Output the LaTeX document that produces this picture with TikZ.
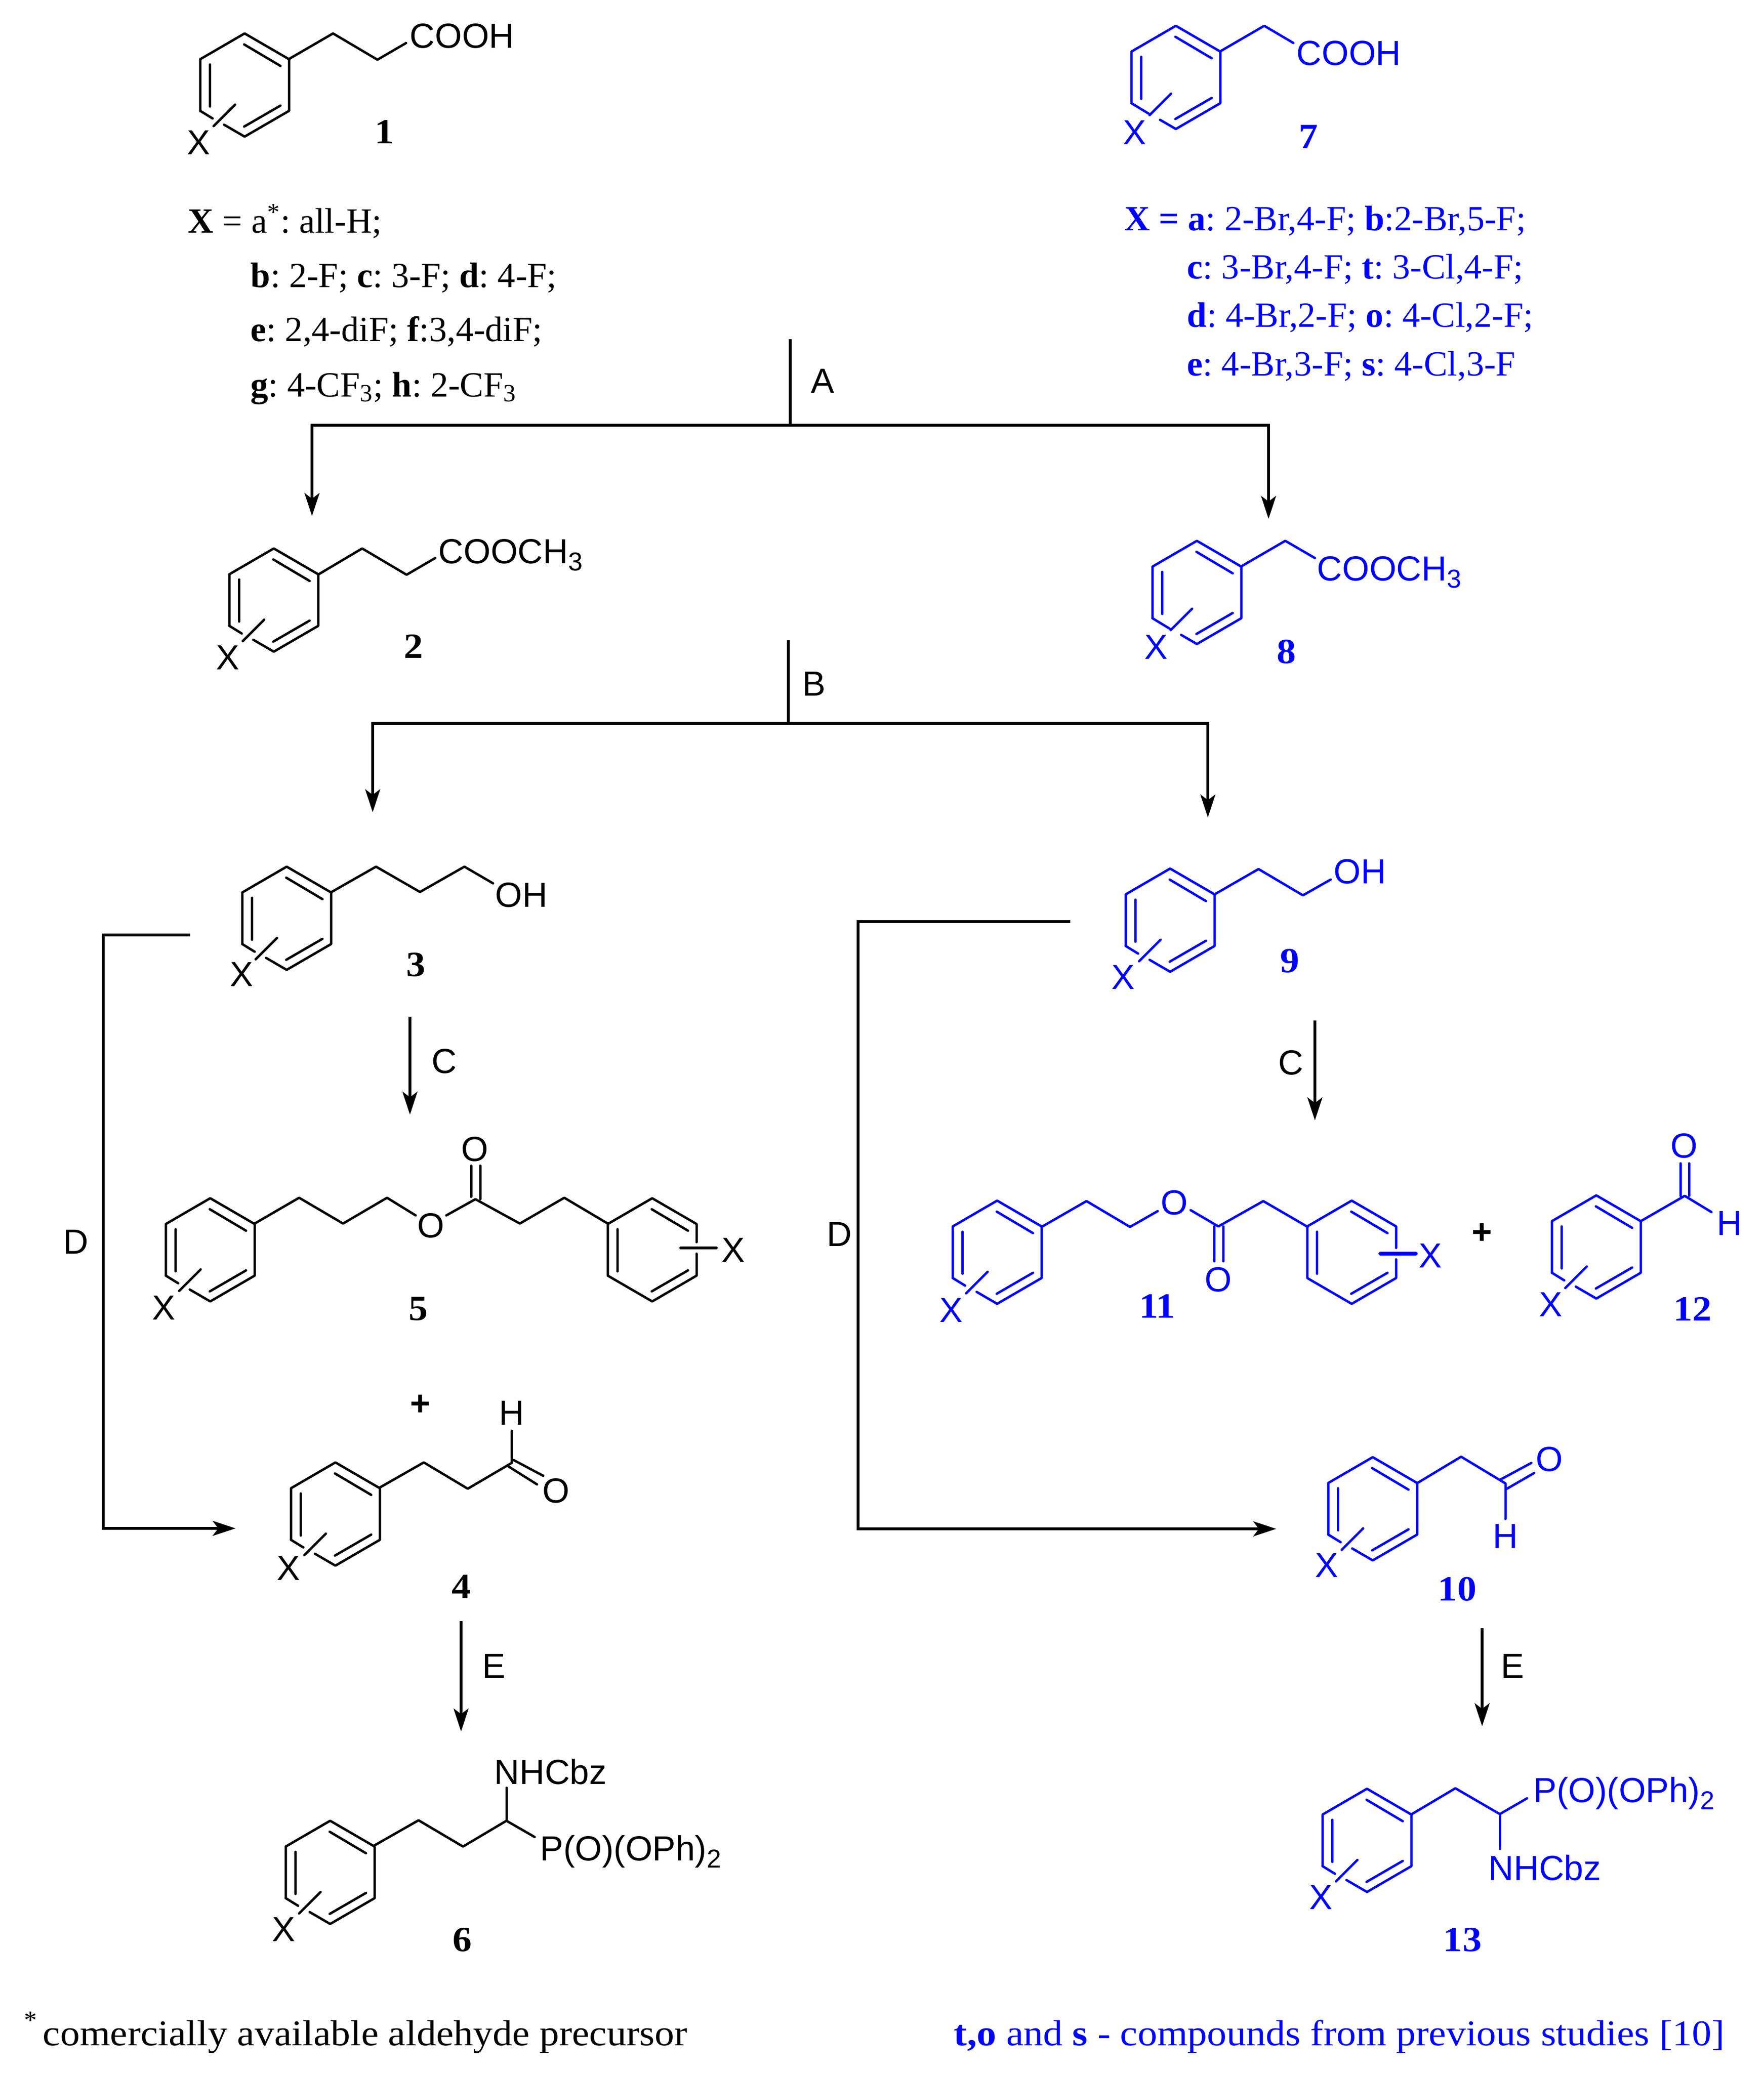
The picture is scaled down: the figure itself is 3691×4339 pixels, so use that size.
\documentclass[tikz,border=0pt]{standalone}
\usepackage{fontspec}
\usetikzlibrary{arrows.meta}
\setmainfont{Liberation Serif}
\newfontfamily\widerm{Liberation Serif}[FakeStretch=1.08]
\newfontfamily\chemsans{Liberation Sans}
\definecolor{chemblue}{RGB}{0,0,255}
\frenchspacing
\newcommand{\subthree}[1]{\raisebox{-3.8pt}{\fontsize{13}{14}\selectfont #1}}
\tikzset{
  bond/.style={line width=1.2pt,line join=round,line cap=round},
  flow/.style={line width=1.35pt,line join=miter,black},
  flowtip/.style={flow,-{Stealth[length=11.5pt,width=7.5pt,inset=2.8pt]}},
  atom/.style={inner sep=0pt,font=\chemsans\fontsize{17.5}{20}\selectfont},
  atomb/.style={atom,anchor=base west},
  cmpd/.style={inner sep=0pt,font=\widerm\fontsize{17.8}{20}\selectfont\bfseries},
  note/.style={inner sep=0pt,anchor=base west,font=\fontsize{17.8}{20}\selectfont\frenchspacing},
  foot/.style={inner sep=0pt,anchor=base west,font=\widerm\fontsize{18.2}{20}\selectfont\frenchspacing},
  stage/.style={atom,black},
  plus/.style={atom,font=\chemsans\bfseries\fontsize{17.5}{20}\selectfont}
}
% ring: #1 id, #2 cx, #3 cy, #4 X dx, #5 X dy, #6 X-bond shift x, #7 shift y
\newcommand{\benz}[7]{%
  \begin{scope}[shift={(#2,#3)},bond]
    \draw (-93,54) -- (-93,-54) -- (0,-108) -- (93,-54) -- (93,54) -- (0,108) -- ({-43+#6},{83+0.58*#6});
    \draw (-93,54) -- ({-67+#6},{70+0.58*#6});
    \draw (-1,-85) -- (75,-40);
    \draw (-1,87) -- (75,43);
    \draw (-72.5,-43) -- (-72.5,45);
    \draw ({-20+#6},{41+#7}) -- ({-65+#6},{86+#7});
    \node[atom] (x#1) at (#4,#5) {X};
  \end{scope}}
% ring with X on the right edge: #1 id, #2 cx, #3 cy, #4 bond y, #5 bond width, #6 X dx
\newcommand{\benzR}[6]{%
  \begin{scope}[shift={(#2,#3)},bond]
    \draw (93,{#4-12}) -- (93,-54) -- (0,-108) -- (-93,-54) -- (-93,54) -- (0,108) -- (93,54) -- (93,{#4+12});
    \draw (-1,-85) -- (75,-40);
    \draw (-1,87) -- (75,43);
    \draw (-72.5,-43) -- (-72.5,45);
    \draw[line width=#5] (60,#4) -- (134,#4);
    \node[atom] (x#1) at (#6,{#4+4}) {X};
  \end{scope}}
\begin{document}
\begin{tikzpicture}[x=0.24pt,y=-0.24pt]
\useasboundingbox[fill=white] (0,0) rectangle (3691,4339);

% ---------- black column ----------
\benz{a}{512}{178}{-96}{120}{0}{0}
\draw[bond] (604,124) -- (697,70) -- (790,125) -- (850,90);
\node[atomb] (cooh1) at (857,101) {COOH};
\node[cmpd] (n1) at (805,276) {1};
\node[note] (t1a) at (393,488) {\textbf{X} = a\textsuperscript{*}: all-H;};
\node[note] (t1b) at (524,602) {\textbf{b}: 2-F; \textbf{c}: 3-F; \textbf{d}: 4-F;};
\node[note] (t1c) at (524,715) {\textbf{e}: 2,4-diF; \textbf{f}:3,4-diF;};
\node[note] (t1d) at (524,830) {\textbf{g}: 4-CF\textsubscript{3}; \textbf{h}: 2-CF\textsubscript{3}};

\benz{b}{573}{1256}{-96}{120}{0}{0}
\draw[bond] (667,1202) -- (758,1148) -- (851,1203) -- (911,1168);
\node[atomb] (e2) at (917,1179) {COOCH\subthree{3}};
\node[cmpd] (n2) at (866,1353) {2};

\benz{c}{600}{1922}{-94}{117}{0}{0}
\draw[bond] (694,1867) -- (787,1814) -- (879,1867) -- (972,1814) -- (1032,1849);
\node[atomb] (oh3) at (1036,1898) {OH};
\node[cmpd] (n3) at (871,2019) {3};

\benz{e}{440}{2616}{-97}{121}{0}{0}
\draw[bond] (533,2561) -- (626,2507) -- (718,2561) -- (810,2507) -- (870,2544);
\draw[bond] (934,2544) -- (995,2510) -- (1088,2561) -- (1181,2507) -- (1272,2561);
\draw[bond] (986,2505) -- (986,2440) (1005,2510) -- (1005,2440);
\node[atom] (o5a) at (902,2565) {O};
\node[atom] (o5b) at (994,2405) {O};
\benzR{f}{1365}{2616}{-4}{1.5pt}{170}
\node[cmpd] (n5) at (876,2740) {5};
\node[plus] (p5) at (880,2941) {+};

\benz{d}{702}{3169}{-98}{113}{0}{0}
\draw[bond] (794,3114) -- (887,3061) -- (979,3116) -- (1071,3062) -- (1071,2995);
\draw[bond] (1075,3056) -- (1137,3089) (1062,3068) -- (1124,3107);
\node[atom] (h4) at (1071,2957) {H};
\node[atom] (o4) at (1164,3120) {O};
\node[cmpd] (n4) at (966,3321) {4};

\benz{g}{691}{3919}{-97}{119}{0}{0}
\draw[bond] (783,3863) -- (876,3810) -- (969,3865) -- (1060,3811) -- (1119,3845);
\draw[bond] (1060,3811) -- (1060,3742);
\node[atomb] (nh6) at (1034,3734) {NHCbz};
\node[atomb] (p6) at (1130,3894) {P(O)(OPh)\subthree{2}};
\node[cmpd] (n6) at (968,4060) {6};

% ---------- blue column ----------
\begin{scope}[color=chemblue]
\benz{h}{2461}{162}{-86}{115}{10}{-7}
\draw[bond] (2553,108) -- (2646,54) -- (2707,90);
\node[atomb] (cooh7) at (2713,137) {COOH};
\node[cmpd] (n7) at (2738,286) {7};
\node[note] (t7a) at (2353,483) {\textbf{X = a}: 2-Br,4-F; \textbf{b}:2-Br,5-F;};
\node[note] (t7b) at (2484,584) {\textbf{c}: 3-Br,4-F; \textbf{t}: 3-Cl,4-F;};
\node[note] (t7c) at (2484,684) {\textbf{d}: 4-Br,2-F; \textbf{o}: 4-Cl,2-F;};
\node[note] (t7d) at (2484,786) {\textbf{e}: 4-Br,3-F; \textbf{s}: 4-Cl,3-F};

\benz{i}{2505}{1240}{-85}{114}{10}{-7}
\draw[bond] (2597,1186) -- (2690,1132) -- (2752,1168);
\node[atomb] (e8) at (2756,1215) {COOCH\subthree{3}};
\node[cmpd] (n8) at (2692,1364) {8};

\benz{j}{2449}{1926}{-98}{119}{0}{0}
\draw[bond] (2542,1872) -- (2634,1819) -- (2727,1874) -- (2785,1841);
\node[atomb] (oh9) at (2791,1849) {OH};
\node[cmpd] (n9) at (2699,2011) {9};

\benz{k}{2087}{2621}{-96}{121}{0}{0}
\draw[bond] (2180,2568) -- (2274,2514) -- (2365,2568) -- (2423,2535);
\draw[bond] (2492,2533) -- (2550,2567) -- (2644,2514) -- (2737,2568);
\draw[bond] (2541,2567) -- (2541,2640) (2560,2567) -- (2560,2640);
\node[atom] (o11a) at (2458,2517) {O};
\node[atom] (o11b) at (2550,2678) {O};
\benzR{l}{2829}{2621}{3}{2pt}{165}
\node[cmpd] (n11) at (2422,2734) {11};

\benz{m}{3341}{2610}{-95}{120}{0}{0}
\draw[bond] (3434,2556) -- (3526,2503) -- (3582,2537);
\draw[bond] (3517,2503) -- (3517,2435) (3535,2503) -- (3535,2435);
\node[atom] (o12) at (3525,2398) {O};
\node[atom] (h12) at (3620,2560) {H};
\node[cmpd] (n12) at (3542,2740) {12};

\benz{n}{2873}{3158}{-96}{118}{0}{0}
\draw[bond] (2965,3105) -- (3058,3049) -- (3151,3105) -- (3151,3179);
\draw[bond] (3140,3097) -- (3205,3062) (3154,3116) -- (3211,3083);
\node[atom] (o10) at (3243,3054) {O};
\node[atom] (h10) at (3151,3215) {H};
\node[cmpd] (n10) at (3050,3326) {10};

\benz{o}{2861}{3852}{-96}{119}{0}{0}
\draw[bond] (2955,3797) -- (3046,3743) -- (3139,3797) -- (3196,3764);
\draw[bond] (3139,3797) -- (3139,3870);
\node[atomb] (p13) at (3209,3772) {P(O)(OPh)\subthree{2}};
\node[atomb] (nh13) at (3115,3935) {NHCbz};
\node[cmpd] (n13) at (3061,4060) {13};

\node[foot] (f2) at (1996,4281) {\textbf{t,o} and \textbf{s} - compounds from previous studies [10]};
\end{scope}

\node[plus] (p11) at (3102,2582) {+};
\node[note,font=\fontsize{13}{15}\selectfont] (f0) at (50,4246) {*};
\node[foot] (f1) at (89,4281) {comercially available aldehyde precursor};

% ---------- reaction arrows ----------
\coordinate (Atop) at (1654,710);
\coordinate (Aj) at (1654,890);
\coordinate (Al) at (653,890);
\coordinate (Alt) at (653,1080);
\coordinate (Ar) at (2655,890);
\coordinate (Art) at (2655,1086);
\draw[flow] (Atop) -- (Aj);
\draw[flowtip] (Aj) -- (Al) -- (Alt);
\draw[flowtip] (Aj) -- (Ar) -- (Art);
\node[stage] (lA) at (1722,797) {A};

\coordinate (Btop) at (1650,1340);
\coordinate (Bj) at (1650,1514);
\coordinate (Bl) at (780,1514);
\coordinate (Blt) at (780,1700);
\coordinate (Br) at (2528,1514);
\coordinate (Brt) at (2528,1711);
\draw[flow] (Btop) -- (Bj);
\draw[flowtip] (Bj) -- (Bl) -- (Blt);
\draw[flowtip] (Bj) -- (Br) -- (Brt);
\node[stage] (lB) at (1704,1431) {B};

\coordinate (Cla) at (858,2128);
\coordinate (Clb) at (858,2333);
\draw[flowtip] (Cla) -- (Clb);
\node[stage] (lCl) at (930,2221) {C};
\coordinate (Cra) at (2752,2136);
\coordinate (Crb) at (2752,2345);
\draw[flowtip] (Cra) -- (Crb);
\node[stage] (lCr) at (2702,2224) {C};

\coordinate (Dla) at (398,1957);
\coordinate (Dlb) at (216,1957);
\coordinate (Dlc) at (216,3199);
\coordinate (Dld) at (493,3199);
\draw[flowtip] (Dla) -- (Dlb) -- (Dlc) -- (Dld);
\node[stage] (lDl) at (159,2599) {D};
\coordinate (Dra) at (2240,1929);
\coordinate (Drb) at (1796,1929);
\coordinate (Drc) at (1796,3200);
\coordinate (Drd) at (2671,3200);
\draw[flowtip] (Dra) -- (Drb) -- (Drc) -- (Drd);
\node[stage] (lDr) at (1757,2583) {D};

\coordinate (Ela) at (965,3393);
\coordinate (Elb) at (965,3624);
\draw[flowtip] (Ela) -- (Elb);
\node[stage] (lEl) at (1034,3487) {E};
\coordinate (Era) at (3102,3408);
\coordinate (Erb) at (3102,3613);
\draw[flowtip] (Era) -- (Erb);
\node[stage] (lEr) at (3166,3487) {E};
\end{tikzpicture}
\end{document}
